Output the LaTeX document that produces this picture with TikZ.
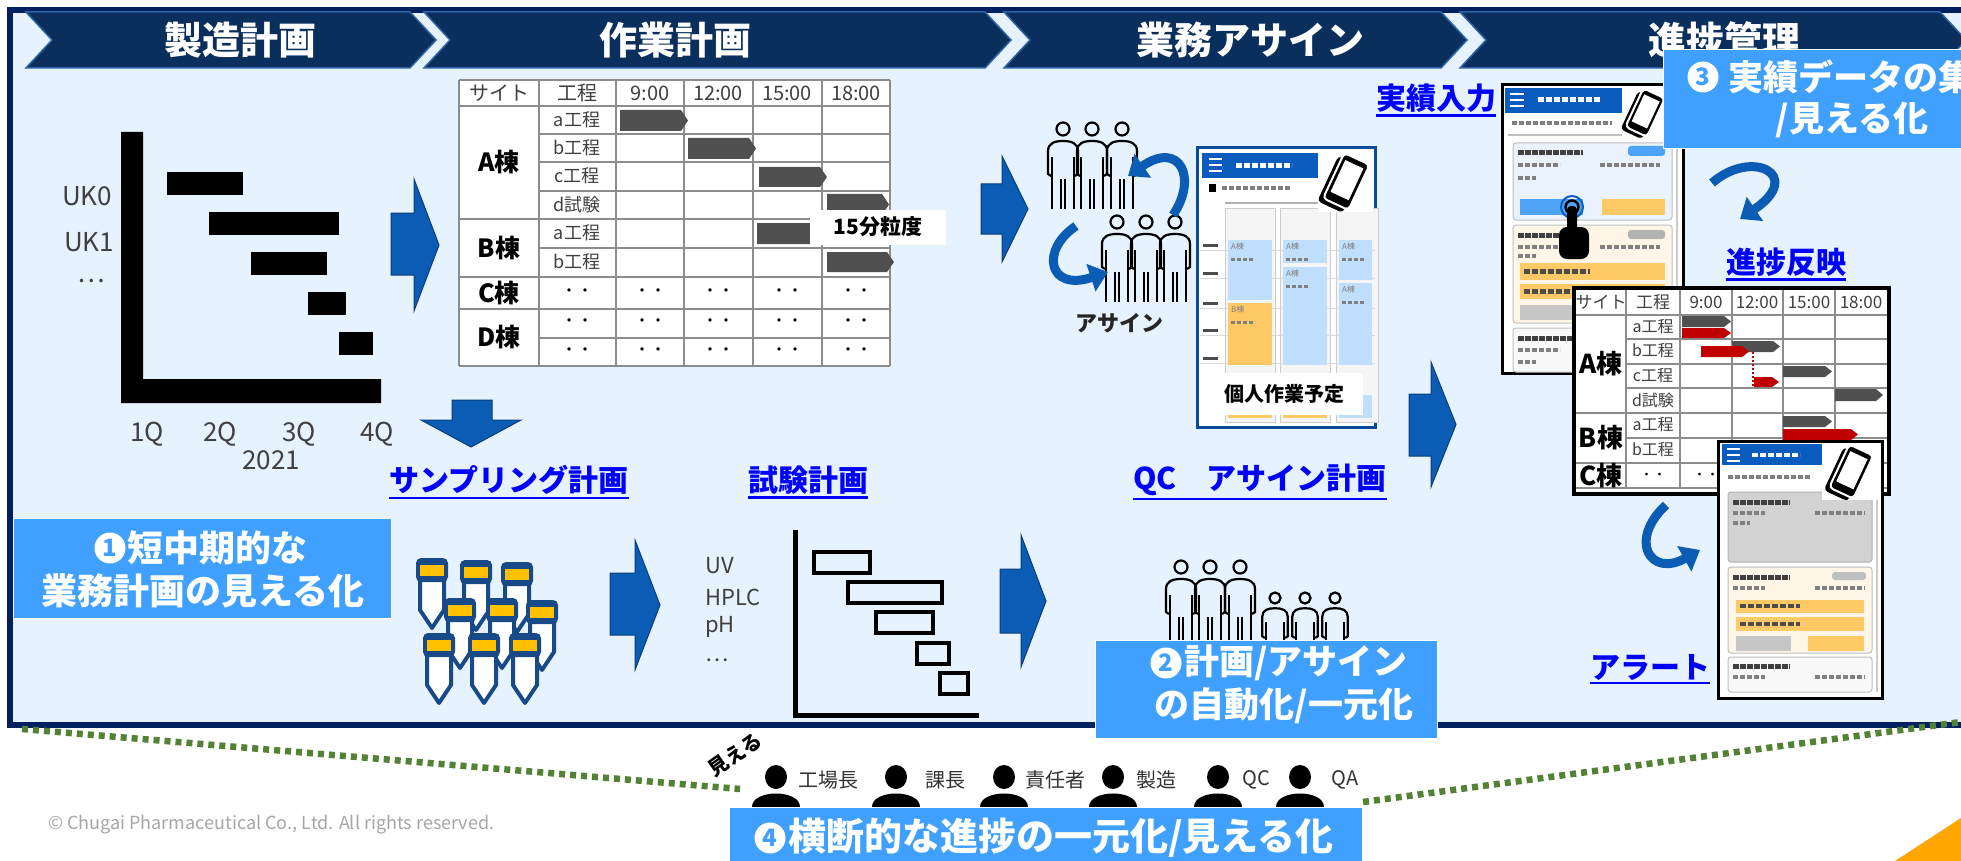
\documentclass[tikz,border=0pt]{standalone}
\usepackage{fontspec}
\setmainfont{Noto Sans CJK JP}
\usetikzlibrary{arrows.meta}

\definecolor{panelbg}{HTML}{E6F2FE}
\definecolor{navy}{HTML}{002060}
\definecolor{chevfill}{HTML}{0B2F5C}
\definecolor{chevedge}{HTML}{2B62A8}
\definecolor{boxblue}{HTML}{3FA0FF}
\definecolor{arrowblue}{HTML}{0B5CB5}
\definecolor{arrowedge}{HTML}{0A3D7C}
\definecolor{linkblue}{HTML}{0000FF}
\definecolor{dotgreen}{HTML}{548235}
\definecolor{gridgrey}{HTML}{8C8C8C}
\definecolor{bargrey}{HTML}{505050}
\definecolor{barred}{HTML}{C00000}
\definecolor{tubenavy}{HTML}{184A88}
\definecolor{tubecap}{HTML}{FFC000}
\definecolor{textgrey}{HTML}{404040}
\definecolor{appblue}{HTML}{0B5CBF}
\definecolor{btnblue}{HTML}{4DA3F5}
\definecolor{slotblue}{HTML}{BFDFFD}
\definecolor{slotorange}{HTML}{FFC965}
\definecolor{cardblue}{HTML}{EAF3FD}
\definecolor{cardcream}{HTML}{FFF6E8}
\definecolor{copygrey}{HTML}{A6A6A6}
\definecolor{cornerorange}{HTML}{FFA500}

\newcommand\fs[1]{\fontsize{#1}{#1}\selectfont}

\tikzset{
  chevron/.style={fill=chevfill, draw=chevedge, line width=1.5pt},
  headtext/.style={text=white, font=\fs{38}\bfseries},
  goalbox/.style={fill=boxblue, draw=white, line width=1pt},
  goaltext/.style={text=white, font=\fs{36}\bfseries, inner sep=0pt},
  numdisc/.style={circle, fill=white, inner sep=0pt, minimum size=31pt, text=boxblue, font=\fs{24}\bfseries},
  blockarrow/.style={fill=arrowblue, draw=arrowedge, line width=1pt},
  curvearrow/.style={arrowblue, line width=9pt, -{Triangle[length=18pt,width=28pt]}},
  linklabel/.style={text=linkblue, font=\fs{30}\bfseries, inner sep=0pt},
  axislabel/.style={text=textgrey, font=\fs{26}, inner sep=0pt},
  grid/.style={gridgrey, line width=1.8pt},
  cell/.style={text=textgrey, font=\fs{18}, inner sep=0pt},
  site/.style={font=\fs{25}\bfseries, inner sep=0pt},
  staffline/.style={line width=2.2pt},
  blur/.style={line width=4pt, dash pattern=on 5pt off 2pt},
}

% right-pointing block arrow: x0, head x, tip x, shaft top, shaft bottom, head top, head bottom
\newcommand\blockarrow[7]{%
  \draw[blockarrow] (#1,#4) -- (#2,#4) -- (#2,#6) -- (#3,{(#6+#7)/2}) -- (#2,#7) -- (#2,#5) -- (#1,#5) -- cycle;}
% schedule bar with pointed end
\newcommand\gbar[5]{%
  \fill[#5] (#1,#3) -- ({#2-7},#3) -- (#2,{(#3+#4)/2}) -- ({#2-7},#4) -- (#1,#4) -- cycle;}
% outline staff icon, head at (#1,#2)
\newcommand\staff[3]{%
  \begin{scope}[shift={(#1,#2)}, scale=#3]
    \draw[staffline] (0,0) circle (6.5);
    \draw[staffline] (-12,47) -- (-15,45) -- (-15,22) .. controls (-15,14) and (-8,12) .. (0,12)
      .. controls (8,12) and (15,14) .. (15,22) -- (15,45) -- (12,47);
    \draw[staffline] (-11,28) -- (-11,80) (11,28) -- (11,80) (-2,50) -- (-2,80) (2,50) -- (2,80);
  \end{scope}}
% solid member icon
\newcommand\member[1]{%
  \fill (#1,777) ellipse (11 and 12);
  \fill (#1-24,807) .. controls (#1-24,789) and (#1+24,789) .. (#1+24,807) -- cycle;}
% sample tube, cap top at (#1,#2)
\newcommand\tube[2]{%
  \begin{scope}[shift={(#1,#2)}]
    \draw[fill=white, draw=tubenavy, line width=4pt, line join=round] (-12,20) -- (-12,52) -- (0,70) -- (12,52) -- (12,20);
    \fill[tubenavy, rounded corners=5pt] (-16,0) rectangle (16,24);
    \fill[tubecap] (-12,7) rectangle (12,18);
  \end{scope}}
% smartphone glyph
\newcommand\handset[3]{%
  \begin{scope}[shift={(#1,#2)}, rotate=-25, scale=#3]
    \fill[rounded corners=4pt] (-17,-21) rectangle (11,29);
    \draw[white, line width=2pt, rounded corners=4pt, fill=black] (-13,-26) rectangle (15,24);
    \fill[white] (-9,-20) rectangle (11,15);
  \end{scope}}
% finger tap
\newcommand\tapmark[2]{%
  \draw[appblue, line width=2pt] (#1,#2) circle (11);
  \draw[line width=2.5pt] (#1,#2) circle (6.5);
  \fill[rounded corners=4pt] (#1-5,#2-1) rectangle (#1+5,#2+32);
  \fill[rounded corners=8pt] (#1-13,#2+20) rectangle (#1+17,#2+52);}
% underlined link text
\newcommand\linklabel[4]{%
  \node[linklabel] (#1) at (#2,#3) {#4};
  \draw[linkblue, line width=2.5pt] ([yshift=-3pt]#1.south west) -- ([yshift=-3pt]#1.south east);}

\begin{document}
\begin{tikzpicture}[x=1pt, y=-1pt]
\useasboundingbox (0,0) rectangle (1961,861);
\clip (0,0) rectangle (1961,861);
\fill[white] (0,0) rectangle (1961,861);

% main panel
\fill[panelbg] (10,10) rectangle (1995,725);
\draw[navy, line width=6pt] (10,10) rectangle (1995,725);

% process header
\foreach \l/\r/\tx/\nm/\lbl in {26/410/240/mfg/製造計画, 424/985/675/work/作業計画,
    1004/1441/1250/asgn/業務アサイン, 1460/1940/1724/prog/進捗管理}{
  \draw[chevron] (\l,12) -- (\r,12) -- (\r+26,40) -- (\r,68) -- (\l,68) -- (\l+26,40) -- cycle;
  \node[headtext] (hd-\nm) at (\tx,40) {\lbl};
}

% production plan chart
\fill (121,132) -- (143,132) -- (143,379) -- (381,379) -- (381,403) -- (121,403) -- cycle;
\foreach \a/\b/\y in {167/243/172, 209/339/212, 251/327/252, 308/346/292, 339/373/332}
  \fill (\a,\y) rectangle (\b,\y+23);
\node[axislabel] (uk0) at (87,196) {UK0};
\node[axislabel] (uk1) at (89,242) {UK1};
\node[axislabel] (ukmore) at (91,281) {…};
\foreach \x/\q in {147/1Q, 220/2Q, 299/3Q, 377/4Q}
  \node[axislabel] (qtr-\q) at (\x,434) {\q};
\node[axislabel] (year) at (271,460) {2021};

\blockarrow{391}{414}{439}{213}{275}{179}{311}

% work plan table
\fill[white] (459,80) rectangle (890,366);
\foreach \y in {134,162,191,248,338} \draw[grid] (539,\y) -- (890,\y);
\foreach \y in {80,106,219,277,309,366} \draw[grid] (459,\y) -- (890,\y);
\foreach \x in {459,539,616,684,753,822,890} \draw[grid] (\x,80) -- (\x,366);
\foreach \x/\t [count=\i] in {499/サイト, 577/工程, 650/9:00, 718/12:00, 787/15:00, 856/18:00}
  \node[cell, font=\fs{20}] (th\i) at (\x,93) {\t};
\foreach \y/\t [count=\i] in {120/a工程, 148/b工程, 176/c工程, 205/d試験, 233/a工程, 262/b工程}
  \node[cell] (step\i) at (577,\y) {\t};
\node[site] (siteA) at (499,162) {A棟};
\node[site] (siteB) at (499,248) {B棟};
\node[site] (siteC) at (499,293) {C棟};
\node[site] (siteD) at (499,337) {D棟};
\foreach \y in {293,323,352}{
  \foreach \x in {577,650,718,787,856}{
    \node[inner sep=0pt, font=\fs{16}] at (\x,\y) {・・};
  }
}
\gbar{620}{688}{110}{131}{bargrey}
\gbar{688}{756}{138}{159}{bargrey}
\gbar{759}{827}{167}{187}{bargrey}
\gbar{827}{889}{194}{215}{bargrey}
\gbar{757}{830}{223}{244}{bargrey}
\gbar{827}{894}{252}{272}{bargrey}
\node[fill=white, minimum width=136pt, minimum height=35pt, inner sep=0pt, font=\fs{21}\bfseries] (grain) at (878,227) {15分粒度};

\blockarrow{981}{1002}{1028}{184}{234}{156}{262}

% assignment
\foreach \x in {1063,1092,1122}{\staff{\x}{129}{1}}
\foreach \x in {1117,1146,1175}{\staff{\x}{222}{1}}
\draw[curvearrow] (1173,215) .. controls (1198,178) and (1180,140) .. (1128,176);
\draw[curvearrow] (1076,226) .. controls (1040,250) and (1048,292) .. (1108,272);
\node[font=\fs{22}\bfseries, text=black!85, inner sep=0pt] (assignlbl) at (1119,323) {アサイン};

% personal schedule screen
\draw[draw=appblue!80!black, line width=3pt, fill=white] (1197,148) rectangle (1375,427);
\fill[appblue] (1202,153) rectangle (1318,178);
\foreach \y in {159,165,171} \draw[white, line width=2pt] (1209,\y) -- (1222,\y);
\draw[white, line width=5pt, dash pattern=on 6pt off 2pt] (1236,166) -- (1292,166);
\fill (1209,184) rectangle (1216,192);
\draw[gray, blur] (1222,188) -- (1290,188);
\draw[gray!60, line width=2pt] (1225,203) -- (1320,203);
\foreach \a/\b in {1225/1275, 1280/1330, 1336/1378}
  \draw[fill=gray!8, draw=gray!40, line width=1pt] (\a,208) rectangle (\b,422);
\foreach \y in {245,273,303,330,358}{
  \draw[gray!30, line width=1pt] (1200,\y+5) -- (1375,\y+5);
  \draw[black!70, line width=3pt] (1203,\y) -- (1218,\y);
}
\fill[slotblue] (1228,240) rectangle (1272,300);
\fill[slotorange] (1228,303) rectangle (1272,365);
\fill[slotblue] (1283,240) rectangle (1327,263);
\fill[slotblue] (1283,267) rectangle (1327,365);
\fill[slotblue] (1339,240) rectangle (1372,280);
\fill[slotblue] (1339,283) rectangle (1372,365);
\fill[slotorange] (1228,410) rectangle (1272,418);
\fill[slotorange] (1283,410) rectangle (1327,418);
\fill[slotblue] (1339,395) rectangle (1372,418);
\foreach \x/\y/\t in {1231/243/A棟, 1286/243/A棟, 1342/243/A棟, 1286/270/A棟, 1342/286/A棟, 1231/306/B棟}{
  \node[anchor=north west, inner sep=0pt, font=\fs{8}, text=gray] at (\x,\y) {\t};
  \draw[gray, line width=3pt, dash pattern=on 4pt off 2pt] (\x,\y+16) -- (\x+24,\y+16);
}
\fill[white] (1318,153) rectangle (1373,212);
\handset{1345}{182}{1}
\node[fill=white, minimum width=158pt, minimum height=42pt, inner sep=0pt, font=\fs{20}\bfseries] (myplan) at (1284,394) {個人作業予定};

\blockarrow{1409}{1431}{1456}{394}{456}{362}{487}

% result entry screen
\draw[line width=3pt, fill=white] (1502,85) rectangle (1683,373);
\fill[appblue] (1505,88) rectangle (1622,113);
\foreach \y in {94,100,106} \draw[white, line width=2pt] (1510,\y) -- (1524,\y);
\draw[white, line width=5pt, dash pattern=on 6pt off 2pt] (1538,100) -- (1600,100);
\draw[gray, blur] (1512,123) -- (1612,123);
\draw[gray!50, line width=1.5pt] (1508,135) -- (1668,135);
\draw[fill=cardblue, draw=gray!50, rounded corners=3pt, line width=1pt] (1513,143) rectangle (1672,220);
\draw[black!75, line width=5pt, dash pattern=on 6pt off 1pt] (1518,153) -- (1583,153);
\draw[gray, blur] (1518,165) -- (1560,165) (1600,165) -- (1660,165) (1518,178) -- (1536,178);
\fill[btnblue, rounded corners=3pt] (1628,146) rectangle (1665,156);
\fill[btnblue] (1520,199) rectangle (1583,215);
\fill[slotorange] (1602,199) rectangle (1665,215);
\draw[fill=cardcream, draw=gray!50, rounded corners=3pt, line width=1pt] (1513,225) rectangle (1672,323);
\draw[black!75, line width=5pt, dash pattern=on 6pt off 1pt] (1518,235) -- (1560,235);
\fill[gray!60, rounded corners=3pt] (1628,230) rectangle (1665,239);
\draw[gray, blur] (1518,247) -- (1560,247) (1600,247) -- (1660,247) (1518,256) -- (1536,256);
\fill[slotorange] (1520,263) rectangle (1665,280);
\fill[slotorange] (1520,284) rectangle (1665,299);
\draw[black!70, line width=5pt, dash pattern=on 6pt off 2pt] (1524,271) -- (1590,271) (1524,291) -- (1590,291);
\fill[gray!45] (1520,305) rectangle (1583,320);
\draw[fill=gray!5, draw=gray!50, rounded corners=3pt, line width=1pt] (1513,328) rectangle (1672,372);
\draw[black!75, line width=5pt, dash pattern=on 6pt off 1pt] (1518,338) -- (1583,338);
\draw[gray, blur] (1518,350) -- (1560,350) (1518,362) -- (1536,362);
\draw[gray!40, line width=2pt] (1677,143) -- (1677,370);
\fill[white] (1622,86) rectangle (1664,140);
\handset{1644}{113}{0.85}
\tapmark{1572}{207}

% progress table
\fill[white] (1574,288) rectangle (1889,494);
\foreach \y in {339,364,388,438} \draw[grid] (1626,\y) -- (1887,\y);
\foreach \y in {315,413,463,488} \draw[grid] (1576,\y) -- (1887,\y);
\foreach \x in {1626,1680,1732,1783,1835} \draw[grid] (\x,290) -- (\x,488);
\foreach \x/\t [count=\i] in {1601/サイト, 1653/工程, 1706/9:00, 1757/12:00, 1809/15:00, 1861/18:00}
  \node[cell, font=\fs{17}] (ph\i) at (\x,302) {\t};
\foreach \y/\t [count=\i] in {327/a工程, 351/b工程, 376/c工程, 400/d試験, 425/a工程, 450/b工程}
  \node[cell, font=\fs{16}] (pstep\i) at (1653,\y) {\t};
\node[site, font=\fs{26}\bfseries] (psiteA) at (1601,364) {A棟};
\node[site, font=\fs{26}\bfseries] (psiteB) at (1601,438) {B棟};
\node[site, font=\fs{26}\bfseries] (psiteC) at (1601,476) {C棟};
\foreach \x in {1653,1706,1757,1809,1861}
  \node[inner sep=0pt, font=\fs{13}] at (\x,476) {・・};
\gbar{1682}{1731}{316}{327}{bargrey}
\gbar{1682}{1731}{328}{338}{barred}
\gbar{1732}{1780}{341}{352}{bargrey}
\gbar{1701}{1749}{346}{357}{barred}
\draw[barred, line width=1.2pt, dash pattern=on 2pt off 2pt] (1753,352) -- (1753,387);
\gbar{1783}{1832}{366}{377}{bargrey}
\gbar{1754}{1779}{377}{387}{barred}
\gbar{1835}{1883}{389}{401}{bargrey}
\gbar{1783}{1832}{416}{427}{bargrey}
\gbar{1783}{1858}{429}{440}{barred}
\draw[line width=3.5pt] (1574,288) rectangle (1889,494);

% alert screen
\draw[line width=3pt, fill=white] (1718,441) rectangle (1882,698);
\fill[appblue] (1722,444) rectangle (1822,465);
\foreach \y in {449,455,461} \draw[white, line width=2pt] (1727,\y) -- (1740,\y);
\draw[white, line width=4pt, dash pattern=on 6pt off 2pt] (1752,455) -- (1800,455);
\draw[gray, blur] (1728,477) -- (1812,477);
\draw[fill=gray!35, draw=gray!60, rounded corners=3pt, line width=1pt] (1728,492) rectangle (1872,562);
\draw[black!75, line width=5pt, dash pattern=on 6pt off 1pt] (1733,502) -- (1790,502);
\draw[gray, blur] (1733,513) -- (1765,513) (1815,513) -- (1865,513) (1733,523) -- (1750,523);
\draw[fill=cardcream, draw=gray!50, rounded corners=3pt, line width=1pt] (1728,567) rectangle (1872,653);
\draw[black!75, line width=5pt, dash pattern=on 6pt off 1pt] (1733,577) -- (1790,577);
\fill[gray!50, rounded corners=3pt] (1832,572) rectangle (1866,580);
\draw[gray, blur] (1733,588) -- (1765,588) (1815,588) -- (1865,588);
\fill[slotorange] (1736,600) rectangle (1864,613);
\fill[slotorange] (1736,617) rectangle (1864,631);
\draw[black!70, line width=4pt, dash pattern=on 6pt off 2pt] (1740,606) -- (1800,606) (1740,624) -- (1800,624);
\fill[gray!45] (1736,636) rectangle (1791,651);
\fill[slotorange] (1808,636) rectangle (1864,651);
\draw[fill=gray!5, draw=gray!50, rounded corners=3pt, line width=1pt] (1728,657) rectangle (1872,692);
\draw[black!75, line width=5pt, dash pattern=on 6pt off 1pt] (1733,666) -- (1790,666);
\draw[gray, blur] (1733,677) -- (1765,677) (1815,677) -- (1865,677);
\draw[gray!40, line width=2pt] (1877,495) -- (1877,692);
\fill[white] (1822,444) rectangle (1880,500);
\handset{1850}{472}{0.95}

% progress arrows
\draw[curvearrow] (1712,183) .. controls (1752,148) and (1805,175) .. (1740,219);
\draw[curvearrow] (1666,505) .. controls (1628,540) and (1650,578) .. (1700,550);

% goal 3
\fill[goalbox] (1663,50) rectangle (2050,149);
\node[numdisc] (n3) at (1703,77) {3};
\node[goaltext, anchor=west, font=\fs{35}\bfseries] (g3a) at (1728,77) {実績データの集};
\node[goaltext, font=\fs{35}\bfseries] (g3b) at (1852,120) {/見える化};

% link labels
\linklabel{smpplan}{509}{480}{サンプリング計画}
\linklabel{testplan}{808}{480}{試験計画}
\linklabel{qcplan}{1260}{480}{QC　アサイン計画}
\linklabel{entry}{1436}{98}{実績入力}
\linklabel{reflect}{1786}{262}{進捗反映}
\linklabel{alert}{1650}{667}{アラート}

% down arrow to sampling
\draw[blockarrow] (452,400) -- (492,400) -- (492,420) -- (521,420) -- (471,447) -- (421,420) -- (452,420) -- cycle;

% sampling tubes
\foreach \x/\y in {432/558, 476/560, 517/562, 460/598, 502/598, 542/600, 439/633, 484/633, 525/633}{
  \tube{\x}{\y}
}

\blockarrow{610}{635}{660}{573}{635}{540}{670}

% test plan chart
\foreach \y/\t in {566/UV, 597/HPLC, 627/pH, 660/…}
  \node[axislabel, font=\fs{22}, anchor=west] (test-\t) at (705,\y) {\t};
\draw[line width=5pt] (795,530) -- (795,715) -- (979,715);
\foreach \a/\b/\y in {814/870/552, 848/942/582, 876/933/612, 917/949/643, 940/968/673}
  \draw[line width=4.5pt] (\a,\y) rectangle (\b,\y+21);

\blockarrow{1000}{1021}{1046}{569}{633}{535}{667}

% QC staff
\foreach \x in {1181,1210,1240}{\staff{\x}{567}{1}}
\foreach \x in {1275,1305,1335}{\staff{\x}{598}{0.85}}

% goals 1 and 2
\fill[goalbox] (13,518) rectangle (391,618);
\node[numdisc] (n1) at (110,548) {1};
\node[goaltext, anchor=west] (g1a) at (127,548) {短中期的な};
\node[goaltext] (g1b) at (203,591) {業務計画の見える化};

\fill[goalbox] (1095,640) rectangle (1437,738);
\node[numdisc] (n2) at (1166,663) {2};
\node[goaltext, anchor=west, font=\fs{35}\bfseries] (g2a) at (1184,663) {計画/アサイン};
\node[goaltext, font=\fs{35}\bfseries] (g2b) at (1284,706) {の自動化/一元化};

% cross-department view
\draw[dotgreen, line width=6.5pt, dash pattern=on 6pt off 5pt] (22,729) -- (740,789);
\draw[dotgreen, line width=6.5pt, dash pattern=on 6pt off 5pt] (1363,802) -- (1961,722);
\node[rotate=35, font=\fs{20}\bfseries, inner sep=0pt] (seen) at (735,755) {見える};
\foreach \x in {776,896,1004,1113,1218,1300}{\member{\x}}
\foreach \x/\t [count=\i] in {828/工場長, 945/課長, 1055/責任者, 1156/製造, 1256/QC, 1345/QA}
  \node[font=\fs{20}, text=black!80, inner sep=0pt] (role\i) at (\x,780) {\t};

\fill[goalbox] (729,807) rectangle (1362,870);
\node[numdisc] (n4) at (770,838) {4};
\node[goaltext, anchor=west, font=\fs{38}\bfseries] (g4) at (788,838) {横断的な進捗の一元化/見える化};

\node[anchor=west, inner sep=0pt, text=copygrey, font=\fs{18}] (copy) at (48,825) {© Chugai Pharmaceutical Co., Ltd. All rights reserved.};
\fill[cornerorange] (1895,861) -- (1961,818) -- (1961,861) -- cycle;
\end{tikzpicture}
\end{document}
